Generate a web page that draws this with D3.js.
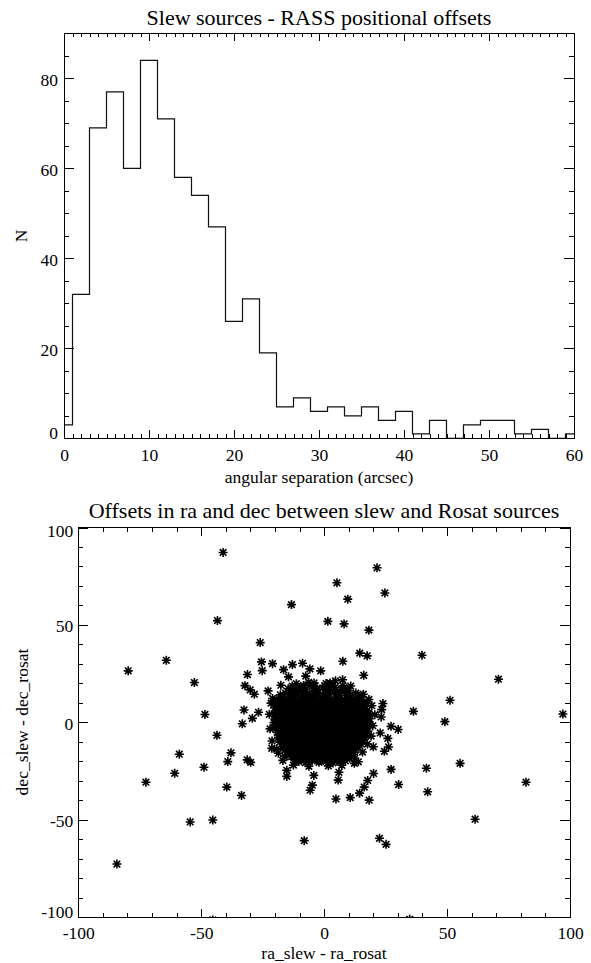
<!DOCTYPE html>
<html>
<head>
<meta charset="utf-8">
<script src="https://cdn.jsdelivr.net/npm/d3@7"></script>
<style>
  html, body { margin: 0; padding: 0; background: #fff; }
  svg { display: block; }
  svg text { font-family: "Liberation Serif", "Times New Roman", Times, "DejaVu Serif", serif; fill: #000; }
</style>
</head>
<body>
<svg id="fig" width="591" height="963"></svg>
<script>
// ---- Upper panel: histogram of angular separations (2 arcsec bins, given by centre) ----
const sepBinCentres = [0,2,4,6,8,10,12,14,16,18,20,22,24,26,28,30,32,34,36,38,40,42,44,46,48,50,52,54,56,58,60];
const sepCounts     = [3,32,69,77,60,84,71,58,54,47,26,31,19,7,9,6,7,5,7,4,6,1,4,0,3,4,4,1,2,0,1];
const sepTicks      = [0,10,20,30,40,50,60];
const countTicks    = [0,20,40,60,80];

// ---- Lower panel: ra / dec offsets (arcsec) ----
const offsetTicks = [-100,-50,0,50,100];

// isolated sources around the main concentration
const offsetOutliers = [
  [-41.1,87.2],[-43.4,52.2],[-13.3,60.4],[-26.0,40.9],[-79.7,26.4],[-64.2,31.8],[-52.8,20.4],[-48.5,4.0],
  [-25.5,31.0],[-25.2,26.5],[-21.0,30.1],[-16.5,27.0],[-14.5,23.3],[-12.9,29.6],[-31.2,24.5],[-32.2,18.8],
  [-30.1,16.6],[-28.4,14.4],[-22.8,16.1],[-21.0,12.2],[-32.6,6.3],[-26.7,5.1],[-29.2,2.0],[-33.3,-0.8],
  [21.5,79.3],[5.2,71.6],[24.7,66.4],[9.6,63.2],[1.5,51.8],[8.1,50.5],[18.2,47.3],[39.8,34.4],
  [14.5,35.5],[17.5,34.1],[7.6,31.3],[70.9,22.1],[51.2,11.3],[36.3,5.6],[49.1,0.3],[97.1,4.2],
  [16.1,24.1],[-8.8,30.3],[-5.8,27.4],[-1.4,26.4],[-7.5,23.7],[7.5,21.8],[-4.1,20.2],[2.4,20.2],
  [23.9,9.6],[23.4,6.5],[23.2,2.7],[27.2,-2.1],[30.1,-3.7],[22.8,-5.5],[25.9,-8.3],[26.2,-12.7],
  [24.5,-14.9],[20.0,-12.6],[-84.3,-72.8],[-72.5,-30.8],[-60.8,-26.2],[-58.9,-16.4],[-48.9,-23.1],[-43.6,-6.7],
  [-54.5,-51.2],[-45.3,-50.2],[-39.6,-33.3],[-33.6,-37.6],[-39.2,-20.2],[-37.9,-15.7],[-31.3,-19.3],[-29.9,-20.6],
  [-45.3,-101.5],[34.8,-101.2],[-15.2,-24.7],[-15.2,-27.8],[-21.3,-13.4],[-18.6,-15.9],[-16.1,-17.6],[55.3,-21.1],
  [41.6,-23.6],[42.1,-35.7],[82.1,-30.8],[61.4,-49.8],[-8.1,-60.8],[22.5,-59.6],[25.2,-62.7],[27.2,-24.2],
  [30.3,-32.0],[20.1,-26.3],[17.7,-29.9],[16.3,-33.3],[14.4,-36.4],[10.6,-38.7],[18.3,-40.0],[4.8,-39.4],
  [6.0,-25.7],[5.7,-29.7],[-4.2,-27.3],[-4.8,-32.3],[-5.7,-34.9],[12.3,-21.1]
];

// the dense core of matched sources
const offsetCore = [
  [-14.6,17.2],[-12.1,16.4],[-9.8,17.9],[-7.4,16.8],[-5.1,18.3],[-2.9,16.9],[-0.6,17.6],[1.8,16.5],[4.3,17.8],[6.9,16.7],[9.2,17.4],
  [-17.8,14.1],[-15.7,15.0],[-13.4,14.3],[-11.2,14.9],[-9.1,13.8],[-6.8,14.7],[-4.7,14.2],[-2.4,15.1],[-0.3,14.0],[1.9,14.6],[4.1,15.2],[6.2,13.9],[8.6,14.8],[10.7,14.1],[12.9,15.0],
  [-19.2,11.6],[-17.0,12.4],[-14.8,11.8],[-12.7,12.5],[-10.5,11.4],[-8.2,12.3],[-6.1,11.7],[-3.9,12.6],[-1.7,11.5],[0.6,12.2],[2.8,11.8],[5.0,12.7],[7.3,11.6],[9.4,12.3],[11.6,11.9],[13.8,12.6],[15.3,11.5],
  [-19.6,9.2],[-17.5,10.1],[-15.3,9.4],[-13.1,9.9],[-10.9,8.9],[-8.8,9.7],[-6.6,9.1],[-4.4,10.0],[-2.2,9.3],[0.1,9.8],[2.2,8.8],[4.5,9.6],[6.7,9.2],[8.8,10.2],[11.1,9.0],[13.3,9.7],[15.4,9.1],[17.2,9.9],
  [-20.1,7.3],[-18.2,6.6],[-16.0,7.5],[-13.8,6.8],[-11.6,7.4],[-9.5,6.5],[-7.3,7.2],[-5.2,6.7],[-2.9,7.6],[-0.8,6.6],[1.4,7.3],[3.6,6.9],[5.8,7.7],[8.0,6.4],[10.2,7.2],[12.4,6.7],[14.6,7.5],[16.8,6.8],
  [-20.3,4.2],[-18.6,5.0],[-16.5,4.4],[-14.3,4.9],[-12.1,3.9],[-9.9,4.8],[-7.8,4.1],[-5.6,5.1],[-3.4,4.3],[-1.2,4.7],[1.0,3.8],[3.1,4.9],[5.3,4.2],[7.5,5.0],[9.7,4.4],[11.9,4.8],[14.0,3.9],[16.2,4.7],[18.1,4.3],
  [-20.0,1.6],[-17.9,2.4],[-15.8,1.8],[-13.6,2.5],[-11.3,1.5],[-9.2,2.2],[-7.0,1.7],[-4.8,2.6],[-2.6,1.4],[-0.5,2.3],[1.7,1.9],[3.9,2.7],[6.1,1.5],[8.2,2.2],[10.4,1.7],[12.6,2.6],[14.8,1.6],[16.9,2.3],[18.4,1.8],
  [-20.4,-0.2],[-18.3,-0.9],[-16.2,-0.3],[-14.0,-1.0],[-11.8,0.1],[-9.6,-0.7],[-7.4,-0.1],[-5.3,-0.9],[-3.1,0.0],[-0.9,-0.6],[1.2,-0.2],[3.4,-1.0],[5.6,-0.4],[7.8,-0.8],[9.9,0.2],[12.1,-0.6],[14.3,-0.1],[16.5,-0.9],[18.2,-0.3],
  [-19.7,-2.6],[-17.6,-3.4],[-15.4,-2.8],[-13.2,-3.5],[-11.0,-2.5],[-8.8,-3.2],[-6.7,-2.7],[-4.5,-3.6],[-2.3,-2.6],[-0.1,-3.3],[2.1,-2.9],[4.3,-3.5],[6.4,-2.5],[8.7,-3.1],[10.8,-2.7],[13.0,-3.6],[15.2,-2.6],[17.4,-3.2],
  [-19.1,-5.2],[-17.0,-5.9],[-14.7,-5.3],[-12.5,-6.0],[-10.4,-5.0],[-8.2,-5.8],[-6.0,-5.2],[-3.8,-6.1],[-1.6,-5.1],[0.6,-5.7],[2.8,-5.3],[5.0,-6.0],[7.1,-4.9],[9.3,-5.6],[11.5,-5.2],[13.7,-6.1],[15.8,-5.4],[17.1,-5.9],
  [-18.6,-7.7],[-16.4,-8.4],[-14.2,-7.8],[-12.0,-8.5],[-9.8,-7.5],[-7.6,-8.2],[-5.4,-7.7],[-3.2,-8.6],[-1.0,-7.6],[1.2,-8.3],[3.4,-7.9],[5.6,-8.5],[7.8,-7.4],[10.0,-8.1],[12.1,-7.7],[14.3,-8.6],[16.4,-7.9],
  [-18.0,-10.2],[-15.8,-10.9],[-13.6,-10.3],[-11.4,-11.0],[-9.2,-10.0],[-7.0,-10.8],[-4.8,-10.2],[-2.6,-11.1],[-0.4,-10.1],[1.8,-10.7],[4.0,-10.3],[6.2,-11.0],[8.4,-9.9],[10.6,-10.6],[12.8,-10.2],[14.9,-11.0],
  [-17.1,-12.6],[-14.9,-13.4],[-12.7,-12.8],[-10.5,-13.5],[-8.3,-12.5],[-6.1,-13.2],[-3.9,-12.7],[-1.7,-13.6],[0.5,-12.6],[2.7,-13.3],[4.9,-12.9],[7.1,-13.5],[9.3,-12.4],[11.5,-13.1],[13.8,-12.7],
  [-15.2,-15.1],[-13.0,-15.9],[-10.8,-15.3],[-8.6,-16.0],[-6.4,-15.0],[-4.2,-15.7],[-2.0,-15.2],[0.2,-16.1],[2.4,-15.1],[4.6,-15.8],[6.8,-15.4],[9.0,-16.0],[11.3,-15.2],
  [-13.3,-17.7],[-11.1,-18.4],[-8.9,-17.8],[-6.7,-18.5],[-4.5,-17.6],[-2.3,-18.2],[-0.1,-17.7],[2.1,-18.6],[4.3,-17.6],[6.5,-18.3],[8.7,-17.9],[10.4,-18.5],
  [-10.3,-20.2],[-7.6,-20.8],[-4.9,-19.9],[-2.1,-20.6],[0.8,-20.1],[3.6,-20.9],[6.4,-20.3],[8.6,-19.8],
  [-11.4,10.8],[-7.2,10.6],[-3.3,11.0],[0.9,10.7],[5.6,10.9],[-9.6,5.9],[-5.5,5.6],[-1.3,6.1],[2.7,5.7],[6.9,5.9],
  [-12.3,-1.8],[-8.1,-1.6],[-4.0,-2.0],[0.2,-1.7],[4.5,-1.9],[8.8,-1.5],[-10.2,-6.9],[-6.1,-7.1],[-2.0,-6.8],[2.2,-7.0],
  [6.3,-6.7],[-8.0,-11.9],[-3.5,-12.1],[0.9,-11.8],[5.2,-12.0],[-13.4,3.2],[-9.1,3.3],[-4.7,3.0],[-0.4,3.4],[4.0,3.1],
  [8.4,3.3],[11.6,-4.3],[-14.5,-4.4],
  [-17.6,19.0],[-11.3,19.8],[-6.3,20.5],[0.8,19.9],[4.6,21.3],[10.8,18.6],[-21.6,9.8],[-22.3,4.1],[-22.0,-3.4],[-21.2,-9.6],
  [-19.4,-13.8],[19.8,-1.8],[20.6,3.9],[19.4,8.5],[18.2,11.7],[15.9,14.4],[19.1,-7.1],[17.6,-11.2],[15.6,-15.3],[12.4,-18.6],
  [-16.8,-19.6],[-12.5,-22.0],[-6.2,-22.6],[1.7,-22.4],[7.2,-22.1],[13.9,-20.3],
  [-13.9,15.9],[-10.4,16.1],[-7.9,15.6],[-3.6,15.8],[1.0,16.0],[5.3,15.7],[9.9,16.2],
  [-16.4,13.0],[-12.0,13.4],[-7.6,13.1],[-3.2,13.5],[1.2,13.0],[5.6,13.3],[9.8,13.1],[14.1,13.5],
  [-18.3,10.9],[-15.1,10.5],[-13.4,11.0],[-9.0,10.7],[-5.1,10.4],[-1.0,10.9],[3.0,10.6],[7.4,10.8],[10.3,10.4],[12.7,10.9],[16.1,10.5],
  [-19.0,8.4],[-16.8,8.1],[-14.5,8.5],[-12.3,8.2],[-10.1,8.0],[-7.9,8.4],[-5.8,8.1],[-3.6,8.6],[-1.4,8.0],[0.8,8.5],[3.0,8.2],[5.2,8.4],[7.4,8.0],[9.6,8.5],[11.8,8.2],[14.0,8.4],[16.1,8.0],
  [-19.3,5.9],[-17.1,5.6],[-14.9,6.0],[-12.8,5.7],[-10.6,6.1],[-8.5,5.5],[-6.3,6.0],[-4.1,5.7],[-2.0,6.2],[0.3,5.5],[4.5,6.1],[6.6,5.6],[8.8,6.0],[11.0,5.5],[13.2,5.9],[15.5,5.6],[17.5,6.0],
  [-19.4,3.1],[-17.2,3.5],[-15.0,3.0],[-10.7,3.6],[-6.4,3.2],[-2.2,3.5],[2.1,3.0],[6.3,3.6],[10.6,3.2],[12.9,3.5],[15.1,3.1],[17.3,3.4],
  [-19.2,0.9],[-17.0,0.6],[-14.8,1.0],[-12.6,0.5],[-10.4,0.9],[-8.3,0.6],[-6.1,1.1],[-3.9,0.5],[-1.7,0.9],[0.5,0.6],[2.7,1.0],[4.8,0.5],[7.0,0.9],[9.2,0.6],[11.4,1.0],[13.6,0.5],[15.7,0.8],[17.7,0.6],
  [-19.1,-1.7],[-16.9,-2.0],[-14.6,-1.6],[-10.2,-2.0],[-6.0,-1.6],[-1.9,-2.1],[2.4,-1.6],[6.6,-2.0],[10.9,-1.7],[13.2,-2.1],[15.3,-1.6],[17.5,-1.9],
  [-18.5,-4.2],[-16.3,-4.6],[-12.0,-4.1],[-9.8,-4.5],[-7.6,-4.0],[-5.4,-4.6],[-3.2,-4.2],[-1.0,-4.5],[1.2,-4.0],[3.4,-4.6],[5.6,-4.1],[7.8,-4.5],[10.0,-4.0],[13.6,-4.4],[15.8,-4.0],[17.8,-4.5],
  [-18.0,-6.7],[-15.8,-7.0],[-13.6,-6.6],[-11.4,-7.1],[-8.1,-6.6],[-4.0,-7.0],[0.1,-6.6],[4.2,-7.1],[8.4,-6.6],[10.6,-7.0],[12.8,-6.6],[15.0,-7.1],[17.0,-6.7],
  [-17.4,-9.2],[-15.1,-9.5],[-12.9,-9.1],[-10.7,-9.6],[-8.5,-9.2],[-6.3,-9.5],[-4.1,-9.0],[-1.9,-9.6],[0.3,-9.1],[2.5,-9.4],[4.7,-9.0],[6.9,-9.5],[9.1,-9.2],[11.3,-9.6],[13.5,-9.1],[15.6,-9.4],
  [-16.5,-11.7],[-14.3,-12.0],[-12.1,-11.6],[-9.9,-12.1],[-5.7,-11.7],[-1.3,-11.9],[3.1,-11.6],[7.3,-12.1],[9.5,-11.7],[11.7,-12.0],[13.9,-11.6],
  [-15.9,-14.2],[-13.7,-14.5],[-11.5,-14.1],[-9.3,-14.6],[-7.1,-14.2],[-4.9,-14.5],[-2.7,-14.0],[-0.5,-14.6],[1.7,-14.2],[3.9,-14.5],[6.1,-14.1],[8.3,-14.6],[10.5,-14.2],[12.6,-14.4],
  [-14.1,-16.7],[-11.9,-17.0],[-9.7,-16.6],[-7.5,-17.1],[-5.3,-16.7],[-3.1,-17.0],[-0.9,-16.6],[1.3,-17.1],[3.5,-16.7],[5.7,-17.0],[7.9,-16.6],[10.1,-17.0],[11.9,-16.5],
  [-12.1,-19.2],[-9.4,-19.0],[-6.0,-19.4],[-3.2,-19.0],[-0.8,-19.3],[2.3,-19.1],[5.1,-19.4],[7.8,-19.0],
  [-13.0,18.6],[-8.4,18.9],[-3.8,18.5],[0.2,18.8],[2.9,18.4],[7.6,18.7]
];

const svg = d3.select("#fig");
const labelSize = 17.5;

// Boxed axes with inward major/minor ticks on all four sides, labels on bottom and left only
function boxAxes(g, x, y, cfg) {
  const [xl, xr] = x.range();
  const [yb, yt] = y.range();
  const fmt = d => String(d);
  const yMin = y.domain()[0], yMax = y.domain()[1];

  const strip = s => s.select(".domain").remove();

  // minor ticks
  g.append("g").attr("transform", `translate(0,${yb})`)
    .call(d3.axisBottom(x).tickValues(cfg.xMinor).tickSize(-cfg.xMinLen).tickFormat("")).call(strip);
  g.append("g").attr("transform", `translate(0,${yt})`)
    .call(d3.axisTop(x).tickValues(cfg.xMinor).tickSize(-cfg.xMinLen).tickFormat("")).call(strip);
  g.append("g").attr("transform", `translate(${xl},0)`)
    .call(d3.axisLeft(y).tickValues(cfg.yMinor).tickSize(-cfg.yMinLen).tickFormat("")).call(strip);
  g.append("g").attr("transform", `translate(${xr},0)`)
    .call(d3.axisRight(y).tickValues(cfg.yMinor).tickSize(-cfg.yMinLen).tickFormat("")).call(strip);

  // major ticks, labelled
  g.append("g").attr("class", "xlab").attr("transform", `translate(0,${yb})`)
    .call(d3.axisBottom(x).tickValues(cfg.xTicks).tickSize(-cfg.xMajLen).tickPadding(10).tickFormat(fmt))
    .call(strip);
  g.append("g").attr("transform", `translate(0,${yt})`)
    .call(d3.axisTop(x).tickValues(cfg.xTicks).tickSize(-cfg.xMajLen).tickFormat("")).call(strip);
  g.append("g").attr("class", "ylab").attr("transform", `translate(${xl},0)`)
    .call(d3.axisLeft(y).tickValues(cfg.yTicks).tickSize(-cfg.yMajLen).tickPadding(cfg.yPad).tickFormat(fmt))
    .call(strip);
  g.append("g").attr("transform", `translate(${xr},0)`)
    .call(d3.axisRight(y).tickValues(cfg.yTicks).tickSize(-cfg.yMajLen).tickFormat("")).call(strip);

  g.selectAll(".tick line").attr("stroke", "#000").attr("stroke-width", 1).attr("shape-rendering", "crispEdges");
  g.selectAll(".xlab, .ylab").attr("font-size", labelSize).attr("font-family", null);
  g.selectAll(".ylab text")
    .attr("dy", d => d === yMin ? "0em" : d === yMax ? "0.53em" : "0.4em");

  // frame
  g.append("rect")
    .attr("x", xl).attr("y", yt).attr("width", xr - xl).attr("height", yb - yt)
    .attr("fill", "none").attr("stroke", "#000").attr("stroke-width", 1)
    .attr("shape-rendering", "crispEdges");
}

// ================= Upper panel =================
const hx = d3.scaleLinear().domain([0, 60]).range([64, 574]);
const hy = d3.scaleLinear().domain([0, 90]).range([438.3, 33.3]);
const histPanel = svg.append("g");

const histLine = d3.line()
  .x((d, i) => hx(sepBinCentres[i]))
  .y(d => hy(d))
  .curve(d3.curveStep);

histPanel.append("path")
  .datum(sepCounts)
  .attr("d", histLine)
  .attr("fill", "none")
  .attr("stroke", "#111")
  .attr("stroke-width", 1.2);

boxAxes(histPanel, hx, hy, {
  xTicks: sepTicks, xMinor: d3.range(0, 61, 1),
  yTicks: countTicks, yMinor: d3.range(0, 91, 5),
  xMajLen: 8, xMinLen: 4, yMajLen: 10, yMinLen: 5, yPad: 6
});

histPanel.append("text").attr("x", 319).attr("y", 25).attr("text-anchor", "middle")
  .attr("font-size", 22).text("Slew sources - RASS positional offsets");
histPanel.append("text").attr("x", 319).attr("y", 483).attr("text-anchor", "middle")
  .attr("font-size", labelSize).text("angular separation (arcsec)");
histPanel.append("text").attr("transform", "translate(27,236) rotate(-90)").attr("text-anchor", "middle")
  .attr("font-size", labelSize).text("N");

// ================= Lower panel =================
const sx = d3.scaleLinear().domain([-100, 100]).range([78.3, 570]);
const sy = d3.scaleLinear().domain([-100, 100]).range([917, 527.5]);
const offsetPanel = svg.append("g");

svg.append("defs").append("clipPath").attr("id", "scatterClip")
  .append("rect")
  .attr("x", sx.range()[0]).attr("y", sy.range()[1])
  .attr("width", sx.range()[1] - sx.range()[0]).attr("height", sy.range()[0] - sy.range()[1]);

// eight-armed asterisk marker
const arm = 4.5, diag = 3.3;
const asterisk = `M${-arm},0H${arm}M0,${-arm}V${arm}M${-diag},${-diag}L${diag},${diag}M${-diag},${diag}L${diag},${-diag}`;

const marks = offsetPanel.append("g").attr("clip-path", "url(#scatterClip)");
marks.selectAll("path.src")
  .data(offsetCore.concat(offsetOutliers))
  .join("path")
  .attr("class", "src")
  .attr("transform", d => `translate(${sx(d[0])},${sy(d[1])})`)
  .attr("d", asterisk)
  .attr("fill", "none")
  .attr("stroke", "#000")
  .attr("stroke-width", 1.6);

boxAxes(offsetPanel, sx, sy, {
  xTicks: offsetTicks, xMinor: d3.range(-100, 101, 10),
  yTicks: offsetTicks, yMinor: d3.range(-100, 101, 10),
  xMajLen: 8, xMinLen: 4, yMajLen: 10, yMinLen: 5, yPad: 5
});

offsetPanel.append("text").attr("x", 324).attr("y", 518).attr("text-anchor", "middle")
  .attr("font-size", 22).text("Offsets in ra and dec between slew and Rosat sources");
offsetPanel.append("text").attr("x", 324).attr("y", 959).attr("text-anchor", "middle")
  .attr("font-size", labelSize).text("ra_slew - ra_rosat");
offsetPanel.append("text").attr("transform", "translate(28,722) rotate(-90)").attr("text-anchor", "middle")
  .attr("font-size", labelSize).text("dec_slew - dec_rosat");
</script>
</body>
</html>
